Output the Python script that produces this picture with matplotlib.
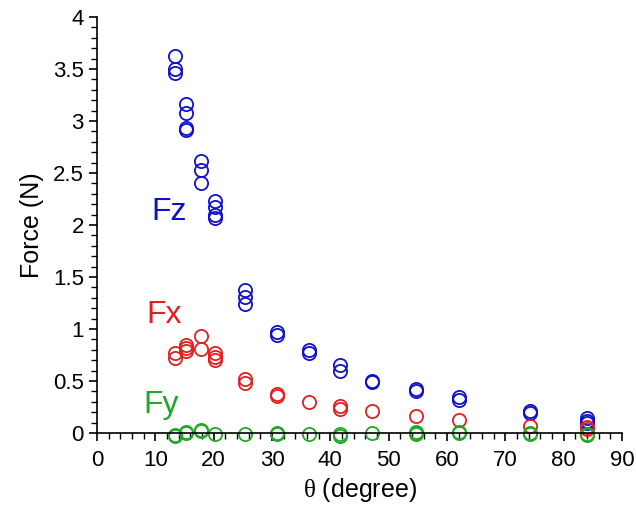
import matplotlib
matplotlib.use("Agg")
import matplotlib.pyplot as plt
from matplotlib.ticker import MultipleLocator

plt.rcParams['font.family'] = ['Liberation Sans', 'DejaVu Sans']
plt.rcParams['mathtext.fontset'] = 'custom'
plt.rcParams['mathtext.it'] = 'Liberation Serif'
plt.rcParams['mathtext.rm'] = 'Liberation Sans'

# angle (degree) for each measured point
fz_theta = [13.4, 13.4, 13.4, 15.2, 15.2, 15.2, 15.2, 17.8, 17.8, 17.8,
            20.3, 20.3, 20.3, 20.3, 25.4, 25.4, 25.4, 30.8, 30.8,
            36.3, 36.3, 41.7, 41.7, 47.2, 47.2, 54.6, 54.6, 62.0, 62.0,
            74.3, 74.3, 84.0, 84.0, 84.0]
fz = [3.63, 3.50, 3.46, 3.16, 3.08, 2.93, 2.91, 2.62, 2.53, 2.40,
      2.23, 2.17, 2.10, 2.07, 1.38, 1.31, 1.24, 0.97, 0.94,
      0.80, 0.77, 0.65, 0.60, 0.50, 0.49, 0.42, 0.40, 0.35, 0.32,
      0.21, 0.19, 0.14, 0.12, 0.10]

fx_theta = [13.4, 13.4, 15.2, 15.2, 15.2, 17.8, 17.8, 20.3, 20.3, 20.3,
            25.4, 25.4, 30.8, 30.8, 36.3, 41.7, 41.7, 47.2, 54.6, 62.0,
            74.3, 84.0, 84.0]
fx = [0.77, 0.72, 0.85, 0.82, 0.79, 0.93, 0.81, 0.77, 0.73, 0.70,
      0.52, 0.48, 0.38, 0.36, 0.30, 0.26, 0.23, 0.21, 0.16, 0.13,
      0.07, 0.06, 0.04]

fy_theta = [13.4, 13.4, 15.2, 15.2, 17.8, 17.8, 20.3, 25.4, 30.8, 30.8,
            36.3, 41.7, 41.7, 47.2, 54.6, 54.6, 54.6, 62.0, 62.0,
            74.3, 74.3, 84.0, 84.0]
fy = [-0.02, -0.03, 0.00, 0.01, 0.03, 0.02, -0.01, -0.01, -0.01, 0.00,
      -0.01, -0.01, -0.03, 0.00, 0.01, 0.00, -0.01, 0.01, 0.00,
      0.00, -0.01, -0.01, -0.02]

fig = plt.figure(figsize=(6.36, 5.11), dpi=100)
ax = fig.add_axes([0.1525, 0.1526, 0.8255, 0.814])

mk = dict(linestyle='none', marker='o', markerfacecolor='none',
          markersize=9.5, markeredgewidth=1.3, clip_on=False)
ax.plot(fz_theta, fz, markeredgecolor='#1010CC', **mk)
ax.plot(fx_theta, fx, markeredgecolor='#E02020', **mk)
ax.plot(fy_theta, fy, markeredgecolor='#20A828', **mk)

ax.text(9.4, 2.05, 'Fz', color='#1010CC', fontsize=23)
ax.text(8.5, 1.06, 'Fx', color='#E02020', fontsize=23)
ax.text(7.9, 0.19, 'Fy', color='#20A828', fontsize=23)

ax.set_xlim(0, 90)
ax.set_ylim(0, 4)
ax.xaxis.set_major_locator(MultipleLocator(10))
ax.xaxis.set_minor_locator(MultipleLocator(2))
ax.yaxis.set_minor_locator(MultipleLocator(0.1))
ax.set_yticks([0, 0.5, 1, 1.5, 2, 2.5, 3, 3.5, 4])
ax.set_yticklabels(['0', '0.5', '1', '1.5', '2', '2.5', '3', '3.5', '4'])

for s in ['top', 'right']:
    ax.spines[s].set_visible(False)
ax.spines['left'].set_linewidth(1.2)
ax.spines['bottom'].set_linewidth(1.2)
ax.tick_params(which='major', direction='out', length=6, width=1.2, labelsize=16)
ax.tick_params(which='minor', direction='out', length=4, width=1.0)
ax.tick_params(axis='x', pad=6)

ax.set_ylabel('Force (N)', fontsize=18, labelpad=6)
ax.set_xlabel(r'$\theta$ (degree)', fontsize=18, labelpad=4)

fig.savefig('out.png', dpi=100)
